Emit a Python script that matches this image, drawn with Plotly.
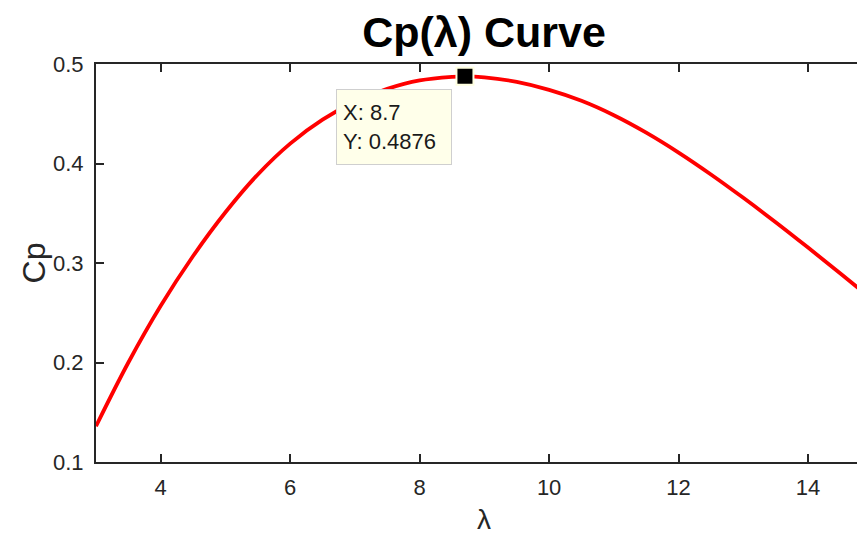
import plotly.graph_objects as go

# Data
tsr = [3.0, 3.5, 4.0, 4.5, 5.0, 5.5, 6.0, 6.5, 7.0, 7.5, 8.0, 8.5, 8.7, 9.0, 9.5,
       10.0, 10.5, 11.0, 11.5, 12.0, 12.5, 13.0, 13.5, 14.0, 14.5, 15.0]
cp = [0.136, 0.200, 0.257, 0.307, 0.351, 0.389, 0.420, 0.444, 0.462, 0.475, 0.4835,
      0.4871, 0.4876, 0.4866, 0.482, 0.474, 0.463, 0.4485, 0.431, 0.411, 0.389,
      0.3655, 0.341, 0.3155, 0.2895, 0.263]
tip_x = [8.7]
tip_y = [0.4876]
x_ticks = [4, 6, 8, 10, 12, 14]
y_ticks = [0.1, 0.2, 0.3, 0.4, 0.5]

AX = "#262626"
FONT = "Liberation Sans, Arial, sans-serif"

fig = go.Figure()
fig.add_trace(go.Scatter(x=tsr, y=cp, mode="lines",
                         line=dict(color="#FF0000", width=3.8, shape="spline", smoothing=1.0),
                         hoverinfo="skip", showlegend=False))
fig.add_trace(go.Scatter(x=tip_x, y=tip_y, mode="markers",
                         marker=dict(symbol="square", size=17, color="black", line=dict(color="#FFFFE0", width=2)),
                         showlegend=False, hoverinfo="skip"))

fig.add_annotation(x=tip_x[0], y=tip_y[0], xref="x", yref="y",
                   text="X: %s<br>Y: %s" % (tip_x[0], tip_y[0]),
                   showarrow=False, xanchor="right", yanchor="top", xshift=-13, yshift=-13,
                   align="left", valign="middle", width=102, height=62, borderpad=6,
                   bgcolor="#FFFFEA", bordercolor="#CFCFCF", borderwidth=1,
                   font=dict(family=FONT, size=22, color="#1a1a1a"))

fig.add_annotation(text="Cp", xref="paper", yref="paper", x=-0.08, y=0.5, xanchor="center", yanchor="middle",
                   textangle=-90, showarrow=False, font=dict(family=FONT, size=32, color=AX))
fig.add_annotation(text="λ", xref="paper", yref="paper", x=0.505, y=0, yanchor="middle", xanchor="center",
                   yshift=-57, showarrow=False, font=dict(family=FONT, size=28, color=AX))

# The page adds an 8px body margin, so the figure is sized to fit inside the window
fig.update_layout(
    width=857, height=528,
    margin=dict(l=88, r=0, t=56, b=74),
    paper_bgcolor="white", plot_bgcolor="white",
    title=dict(text="<b>Cp(λ) Curve</b>", x=476 / 857, xref="container", xanchor="center",
               y=1 - 24 / 528, yref="container", yanchor="middle",
               font=dict(family=FONT, size=43, color="black")),
    xaxis=dict(range=[3, 14.88], tickvals=x_ticks, ticks="inside", ticklen=8, tickwidth=2, tickcolor=AX,
               showline=True, linecolor=AX, linewidth=2, mirror="ticks", showgrid=False, zeroline=False,
               tickfont=dict(family=FONT, size=22, color=AX), ticklabelstandoff=5),
    yaxis=dict(range=[0.1, 0.5], tickvals=y_ticks, ticktext=[str(v) for v in y_ticks], ticks="inside",
               ticklen=8, tickwidth=2, tickcolor=AX,
               showline=True, linecolor=AX, linewidth=2, mirror=False, showgrid=False, zeroline=False,
               tickfont=dict(family=FONT, size=22, color=AX), ticklabelstandoff=6),
)

fig.write_html("out.html")
